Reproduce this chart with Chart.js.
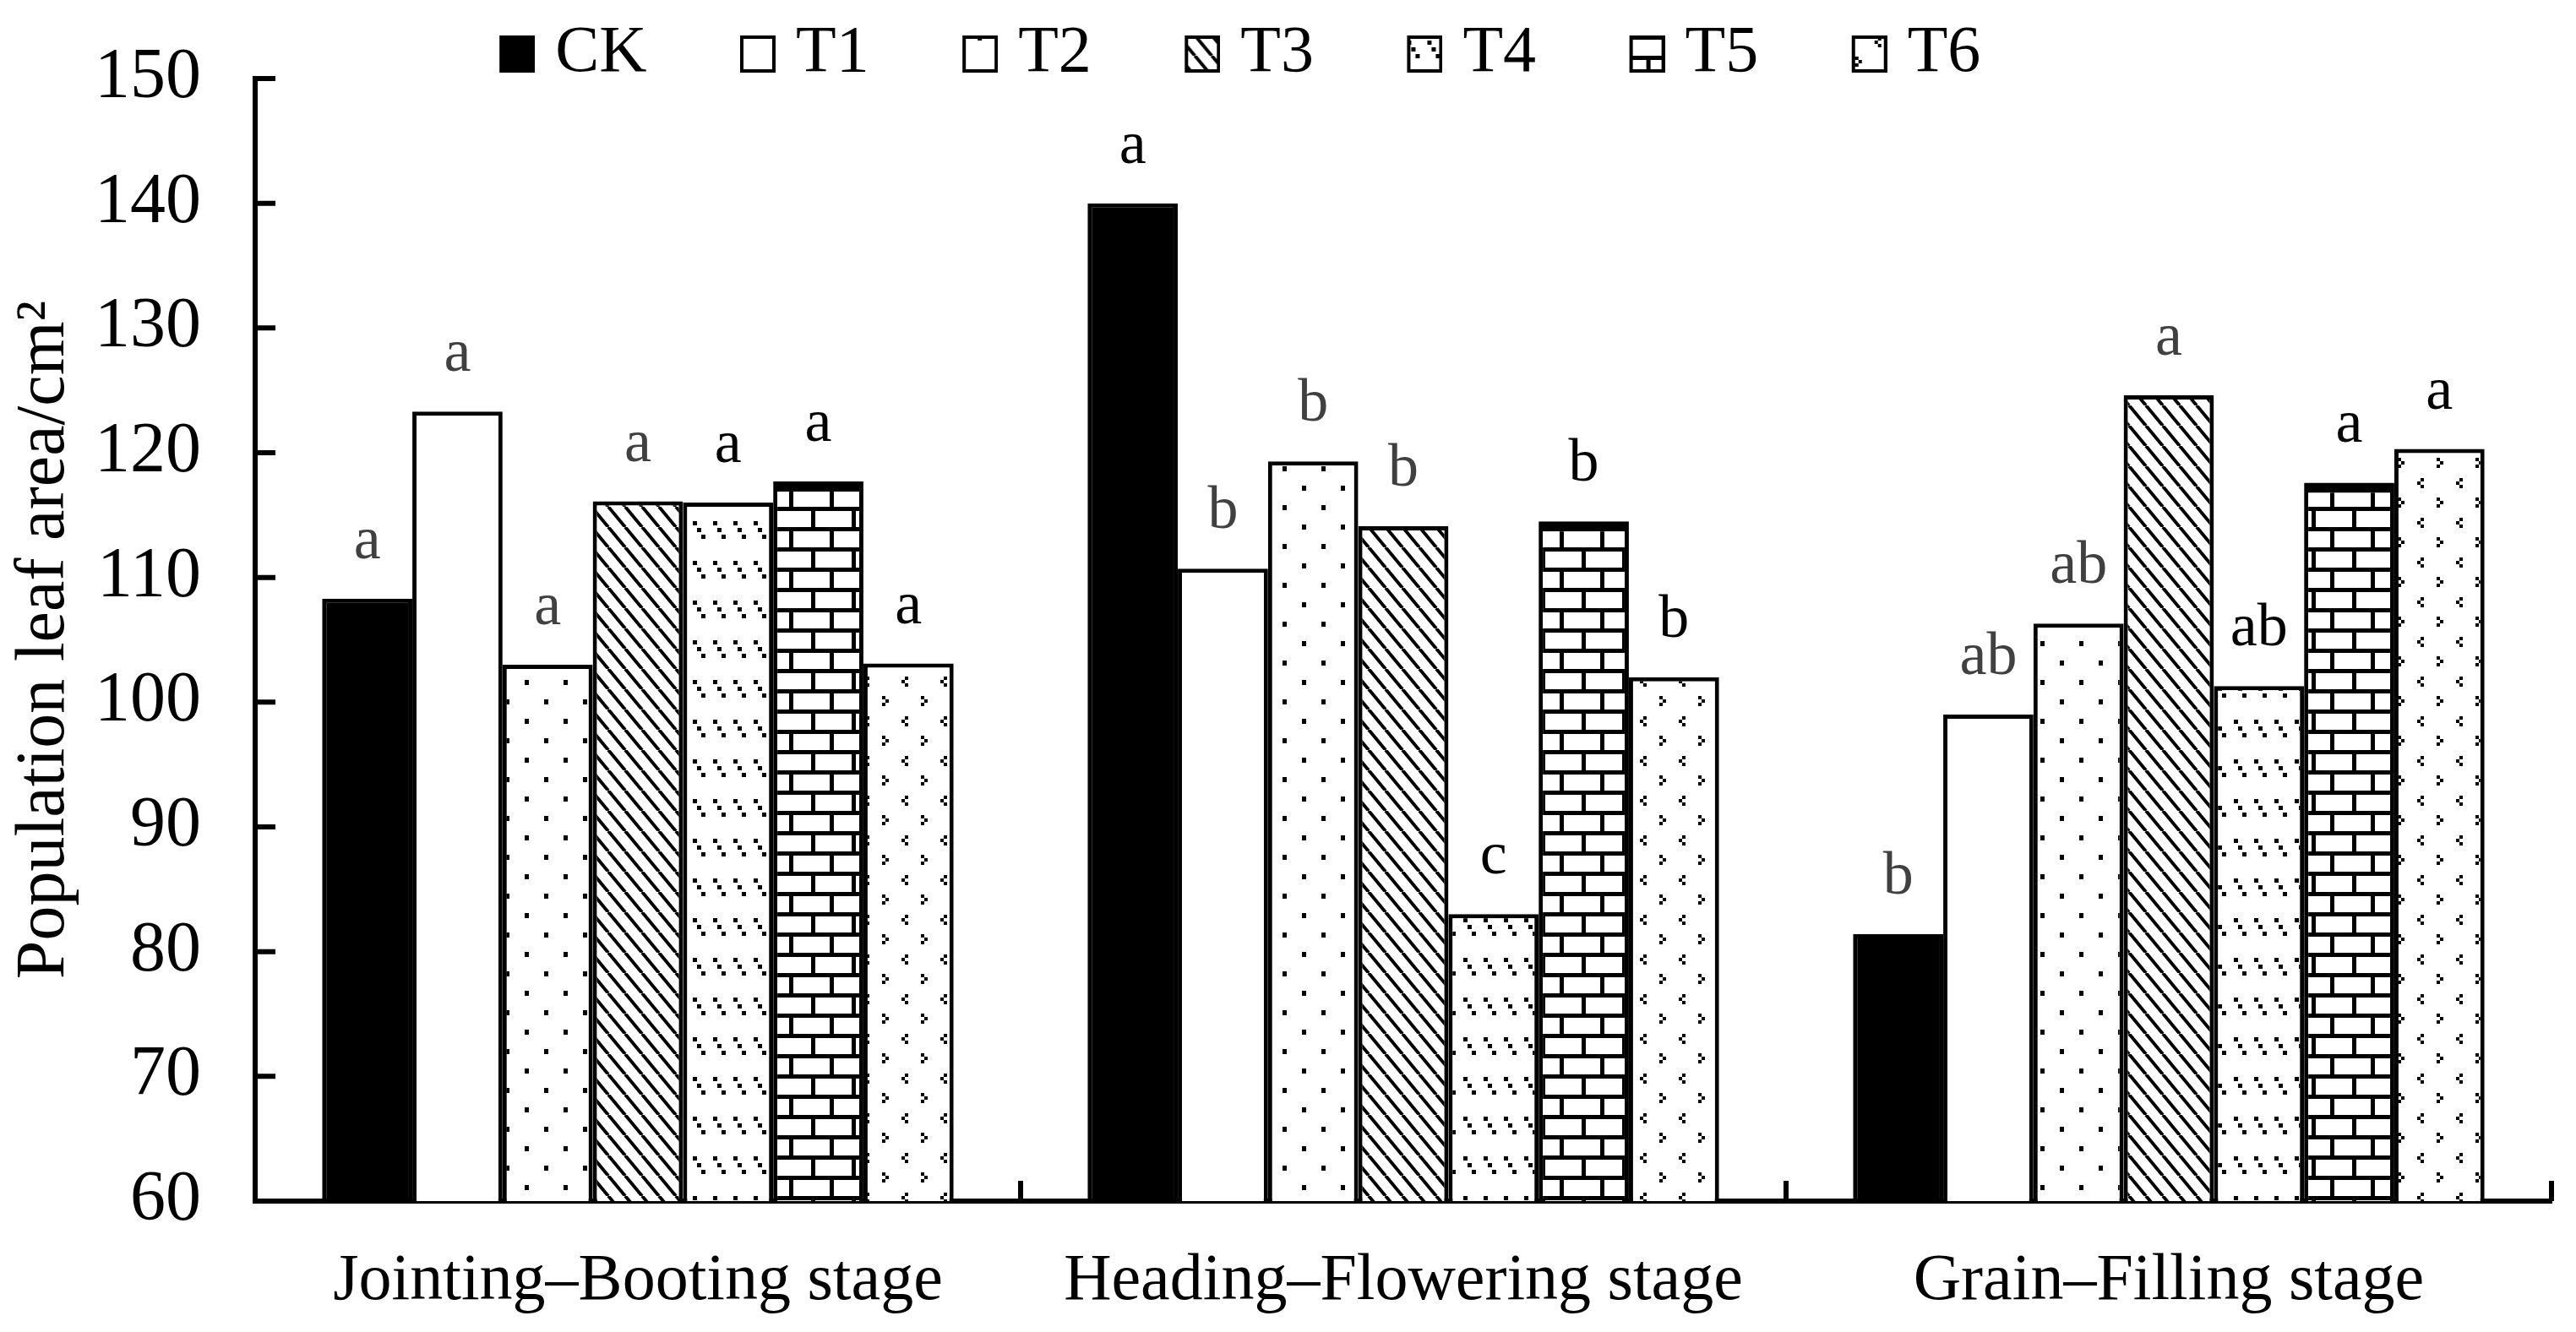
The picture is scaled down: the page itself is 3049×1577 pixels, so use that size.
<!DOCTYPE html>
<html>
<head>
<meta charset="utf-8">
<script src="https://cdn.jsdelivr.net/npm/chart.js@4.4.1/dist/chart.umd.min.js"></script>
<style>
  html, body { margin: 0; padding: 0; background: #fff; }
  #wrap { width: 3049px; height: 1577px; }
</style>
</head>
<body>
<div id="wrap"><canvas id="leaf-chart"></canvas></div>
<script>
// stages and series
var stages = ["Jointing\u2013Booting stage", "Heading\u2013Flowering stage", "Grain\u2013Filling stage"];
var seriesNames = ["CK", "T1", "T2", "T3", "T4", "T5", "T6"];
var ckValues = [108.3, 140.0, 81.4];
var t1Values = [123.3, 110.7, 99.0];
var t2Values = [103.0, 119.3, 106.3];
var t3Values = [116.1, 114.1, 124.6];
var t4Values = [116.0, 83.0, 101.3];
var t5Values = [117.7, 114.5, 117.6];
var t6Values = [103.1, 102.0, 120.3];
// significance letters per series
var ckLetters = ["a", "a", "b"];
var t1Letters = ["a", "b", "ab"];
var t2Letters = ["a", "b", "ab"];
var t3Letters = ["a", "b", "a"];
var t4Letters = ["a", "c", "ab"];
var t5Letters = ["a", "b", "a"];
var t6Letters = ["a", "b", "a"];
var yTicks = [60, 70, 80, 90, 100, 110, 120, 130, 140, 150];

var allValues = [ckValues, t1Values, t2Values, t3Values, t4Values, t5Values, t6Values];
var allLetters = [ckLetters, t1Letters, t2Letters, t3Letters, t4Letters, t5Letters, t6Letters];
// some letters are printed in dark grey
var GREY = "#404040";
var letterColors = [
    [GREY, "#000", GREY],
    [GREY, GREY, GREY],
    [GREY, GREY, GREY],
    [GREY, GREY, GREY],
    ["#000", "#000", "#000"],
    ["#000", "#000", "#000"],
    ["#000", "#000", "#000"]
];

var FONT = "'Liberation Serif', 'Times New Roman', serif";

function makeTile(w, h, draw) {
    var c = document.createElement("canvas");
    c.width = w;
    c.height = h;
    var g = c.getContext("2d");
    g.fillStyle = "#fff";
    g.fillRect(0, 0, w, h);
    g.fillStyle = "#000";
    g.strokeStyle = "#000";
    draw(g, w, h);
    return c;
}

var tiles = [
    null,
    null,
    makeTile(46, 46, function (g) {
        g.fillRect(0, 0, 5, 6);
        g.fillRect(23, 23, 5, 6);
    }),
    makeTile(20, 24, function (g, w, h) {
        g.lineWidth = 4;
        for (var dx = -w; dx <= w; dx += w) {
            g.beginPath();
            g.moveTo(dx, 0);
            g.lineTo(dx + w, h);
            g.stroke();
        }
    }),
    makeTile(24, 47, function (g) {
        g.fillRect(4, 6, 5, 5);
        g.fillRect(9, 14, 5, 5);
        g.fillRect(14, 22, 5, 5);
    }),
    makeTile(48, 48, function (g) {
        g.fillRect(0, 0, 48, 5);
        g.fillRect(0, 24, 48, 5);
        g.fillRect(22, 5, 5, 19);
        g.fillRect(0, 29, 5, 19);
    }),
    makeTile(46, 47, function (g) {
        g.fillRect(13, 2, 4, 4);
        g.fillRect(9, 6, 4, 4);
        g.fillRect(13, 10, 4, 4);
        g.fillRect(32, 25, 4, 4);
        g.fillRect(36, 29, 4, 4);
        g.fillRect(32, 33, 4, 4);
    })
];

var helper = document.createElement("canvas").getContext("2d");
var fills = tiles.map(function (t, i) {
    if (i === 0) return "#000";
    if (i === 1) return "#fff";
    return helper.createPattern(t, "repeat");
});

// legend swatch: box drawn at the right of a wider image so it sits close to the text
function makeSwatch(i) {
    var c = document.createElement("canvas");
    c.width = 70;
    c.height = 44;
    var g = c.getContext("2d");
    g.fillStyle = fills[i];
    g.fillRect(28, 1, 41, 42);
    g.strokeStyle = "#000";
    g.lineWidth = 4;
    g.strokeRect(30, 2, 38, 40);
    return c;
}

var datasets = seriesNames.map(function (name, i) {
    return {
        label: name,
        data: allValues[i],
        backgroundColor: fills[i],
        borderColor: "#000",
        borderWidth: i === 5 ? { top: 12, left: 5, right: 5, bottom: 0 } : 5,
        categoryPercentage: 0.825,
        barPercentage: 1.0
    };
});

// bar letters above each bar
var letterPlugin = {
    id: "letters",
    afterDatasetsDraw: function (chart) {
        var ctx = chart.ctx;
        ctx.save();
        ctx.font = "72px " + FONT;
        ctx.textAlign = "center";
        ctx.textBaseline = "alphabetic";
        chart.data.datasets.forEach(function (ds, i) {
            chart.getDatasetMeta(i).data.forEach(function (bar, j) {
                ctx.fillStyle = letterColors[i][j];
                ctx.fillText(allLetters[i][j], bar.x, bar.y - 48);
            });
        });
        ctx.restore();
    }
};

// tick marks pointing into the plot
var innerTicks = {
    id: "innerTicks",
    afterDraw: function (chart) {
        var ctx = chart.ctx;
        var area = chart.chartArea;
        var y = chart.scales.y;
        var x = chart.scales.x;
        ctx.save();
        ctx.strokeStyle = "#000";
        ctx.lineWidth = 6;
        ctx.beginPath();
        yTicks.forEach(function (v) {
            var py = y.getPixelForValue(v);
            ctx.moveTo(area.left, py);
            ctx.lineTo(area.left + 24, py);
        });
        for (var k = 0; k <= stages.length; k++) {
            var px = x.getPixelForValue(k - 0.5);
            ctx.moveTo(px, area.bottom);
            ctx.lineTo(px, area.bottom - 24);
        }
        ctx.stroke();
        ctx.restore();
    }
};

var ctx = document.getElementById("leaf-chart").getContext("2d");

var leafChart = new Chart(ctx, {
    type: "bar",
    data: { labels: stages, datasets: datasets },
    plugins: [letterPlugin, innerTicks],
    options: {
        responsive: true,
        maintainAspectRatio: false,
        animation: false,
        devicePixelRatio: 1,
        layout: { padding: { top: 25, left: 0, right: 29, bottom: 0 } },
        plugins: {
            tooltip: { enabled: false },
            legend: {
                position: "top",
                maxHeight: 68,
                labels: {
                    color: "#000",
                    font: { family: FONT, size: 78 },
                    usePointStyle: true,
                    pointStyleWidth: 40,
                    boxHeight: 42,
                    padding: 0,
                    generateLabels: function (chart) {
                        var items = Chart.defaults.plugins.legend.labels.generateLabels(chart);
                        items.forEach(function (it, i) {
                            it.text = it.text + "\u00a0\u00a0\u00a0\u00a0\u00a0";
                            it.pointStyle = makeSwatch(i);
                        });
                        return items;
                    }
                }
            }
        },
        scales: {
            x: {
                grid: { display: false, drawTicks: false },
                border: { display: true, color: "#000", width: 6 },
                ticks: {
                    color: "#000",
                    font: { family: FONT, size: 78 },
                    padding: 49,
                    maxRotation: 0
                },
                afterFit: function (scale) {
                    scale.paddingLeft = 0;
                    scale.paddingRight = 0;
                    scale.height = 155;
                }
            },
            y: {
                min: 60,
                max: 150,
                grid: { display: false, drawTicks: false },
                border: { display: true, color: "#000", width: 6 },
                ticks: {
                    stepSize: 10,
                    color: "#000",
                    font: { family: FONT, size: 84 },
                    padding: 64
                },
                title: {
                    display: true,
                    text: "Population leaf area/cm\u00b2",
                    color: "#000",
                    font: { family: FONT, size: 82 },
                    padding: { top: 4, bottom: 12 }
                },
                afterFit: function (scale) {
                    scale.width = 302;
                    scale.paddingTop = 0;
                    scale.paddingBottom = 0;
                }
            }
        }
    }
});
</script>
</body>
</html>
